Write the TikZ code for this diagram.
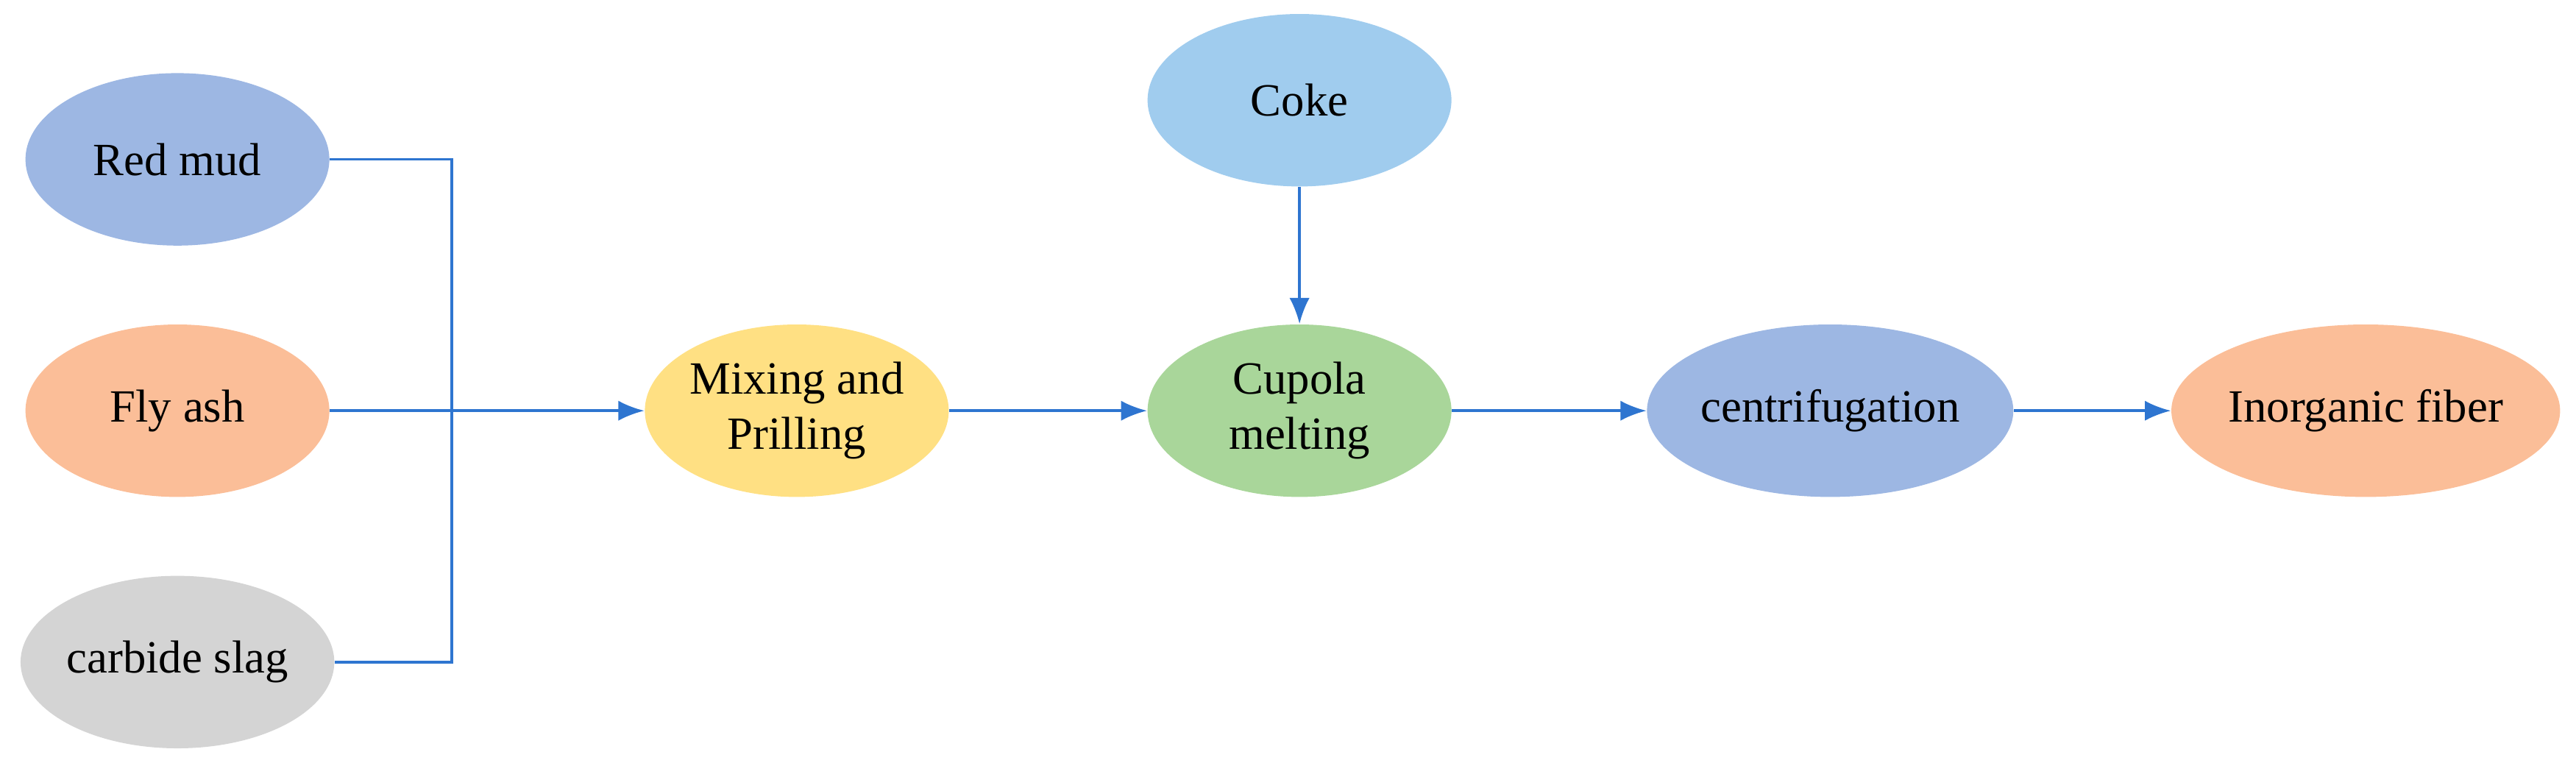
\documentclass[tikz,border=0pt]{standalone}
\usepackage{fontspec}
\setmainfont{Liberation Serif}
\usetikzlibrary{arrows.meta,shapes.geometric}
\definecolor{cblue}{HTML}{9DB7E3}
\definecolor{corange}{HTML}{FBBE98}
\definecolor{cgray}{HTML}{D4D4D4}
\definecolor{cyellow}{HTML}{FFE083}
\definecolor{clblue}{HTML}{A0CCEE}
\definecolor{cgreen}{HTML}{A9D69A}
\definecolor{cline}{HTML}{2E75D0}
\begin{document}
\begin{tikzpicture}[x=0.02cm,y=-0.02cm,
  el/.style={ellipse,minimum width=3.7cm,minimum height=2.1cm,inner sep=0pt,align=center,font=\fontsize{16}{19}\selectfont},
  ln/.style={draw=cline,line width=0.9pt},
  ar/.style={ln,-{Latex[length=9pt,width=7pt]}}]
\useasboundingbox (0,0) rectangle (1568,464);
\node[el,fill=cblue] (red) at (108,97) {Red mud};
\node[el,fill=corange] (fly) at (108,250) {Fly ash};
\node[el,fill=cgray] (slag) at (108,403) {carbide slag};
\node[el,fill=cyellow] (mix) at (485,250) {Mixing and\\Prilling};
\node[el,fill=clblue] (coke) at (791,61) {Coke};
\node[el,fill=cgreen] (cup) at (791,250) {Cupola\\melting};
\node[el,fill=cblue,minimum width=4.35cm] (cen) at (1114,250) {centrifugation};
\node[el,fill=corange,minimum width=3.9cm] (fib) at (1440,250) {Inorganic fiber};
\coordinate (j) at (275,250);
\draw[ln] (red.east) -| (j);
\draw[ln] (slag.east) -| (j);
\draw[ar] (fly.east) -- (mix.west);
\draw[ar] (coke.south) -- (cup.north);
\draw[ar] (mix.east) -- (cup.west);
\draw[ar] (cup.east) -- (cen.west);
\draw[ar] (cen.east) -- (fib.west);
\end{tikzpicture}
\end{document}
